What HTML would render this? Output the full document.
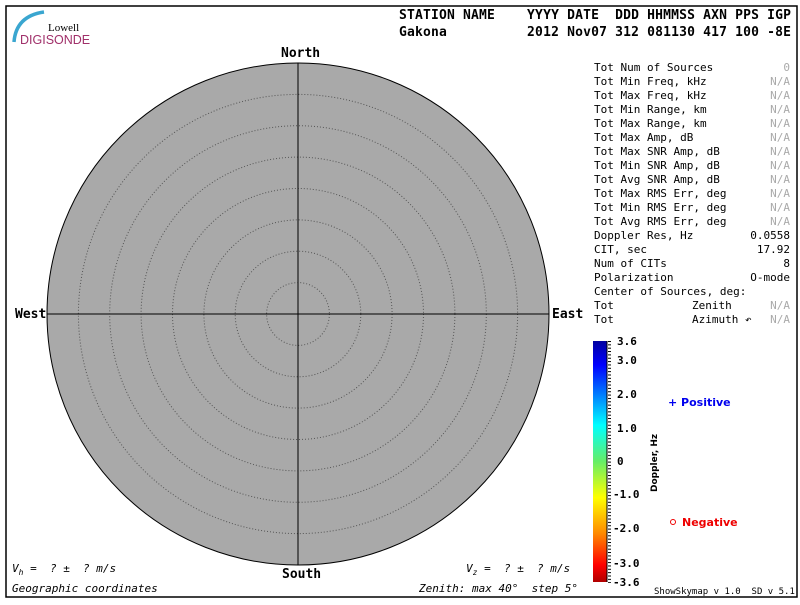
<!DOCTYPE html>
<html><head><style>
body{margin:0;background:#fff;width:800px;height:600px;overflow:hidden}
svg text{font-family:"DejaVu Sans Mono","Liberation Mono",monospace;white-space:pre}
</style></head><body>
<svg width="800" height="600" xmlns="http://www.w3.org/2000/svg" xml:space="preserve">
<defs><linearGradient id="g" x1="0" y1="0" x2="0" y2="1">
<stop offset="0" stop-color="#0000a0"/><stop offset="0.1" stop-color="#0000ff"/>
<stop offset="0.35" stop-color="#00ffff"/><stop offset="0.5" stop-color="#66ee66"/>
<stop offset="0.65" stop-color="#ffff00"/><stop offset="0.8" stop-color="#ff8800"/>
<stop offset="0.93" stop-color="#ff0000"/><stop offset="1" stop-color="#b00000"/>
</linearGradient>
<pattern id="tk" x="0" y="341" width="8" height="3.35" patternUnits="userSpaceOnUse"><line x1="0" y1="0.5" x2="4" y2="0.5" stroke="#000"/></pattern>
</defs>
<rect x="6" y="6" width="791" height="591" fill="#fff" stroke="#000" stroke-width="1.5"/>
<path d="M14 42 Q16 16 44 12" stroke="#3aa6d0" stroke-width="3.5" fill="none"/>
<text x="48" y="31" style="font-family:'Liberation Serif'" font-size="11">Lowell</text>
<text x="20" y="44" style="font-family:'Liberation Sans'" font-size="12.5" fill="#a0306a">DIGISONDE</text>
<g font-size="13" font-weight="bold">
<text x="399" y="19" textLength="392" lengthAdjust="spacing">STATION NAME    YYYY DATE  DDD HHMMSS AXN PPS IGP</text>
<text x="399" y="36" textLength="392" lengthAdjust="spacing">Gakona          2012 Nov07 312 081130 417 100 -8E</text>
<text x="281" y="57">North</text><text x="282" y="578">South</text>
<text x="15" y="318">West</text><text x="552" y="318">East</text>
</g>
<circle cx="298" cy="314" r="251" fill="#a9a9a9" stroke="#000"/>
<g fill="none" stroke="#555" stroke-dasharray="1,2">
<circle cx="298" cy="314" r="31.4"/><circle cx="298" cy="314" r="62.8"/><circle cx="298" cy="314" r="94.1"/><circle cx="298" cy="314" r="125.5"/><circle cx="298" cy="314" r="156.9"/><circle cx="298" cy="314" r="188.3"/><circle cx="298" cy="314" r="219.6"/></g>
<line x1="298" y1="63" x2="298" y2="565" stroke="#000"/><line x1="47" y1="314" x2="549" y2="314" stroke="#000"/>
<g font-size="11">
<text x="594" y="71">Tot Num of Sources</text><text x="594" y="85">Tot Min Freq, kHz</text><text x="594" y="99">Tot Max Freq, kHz</text><text x="594" y="113">Tot Min Range, km</text><text x="594" y="127">Tot Max Range, km</text><text x="594" y="141">Tot Max Amp, dB</text><text x="594" y="155">Tot Max SNR Amp, dB</text><text x="594" y="169">Tot Min SNR Amp, dB</text><text x="594" y="183">Tot Avg SNR Amp, dB</text><text x="594" y="197">Tot Max RMS Err, deg</text><text x="594" y="211">Tot Min RMS Err, deg</text><text x="594" y="225">Tot Avg RMS Err, deg</text><text x="594" y="239">Doppler Res, Hz</text><text x="594" y="253">CIT, sec</text><text x="594" y="267">Num of CITs</text><text x="594" y="281">Polarization</text><text x="594" y="295">Center of Sources, deg:</text><text x="594" y="309">Tot</text><text x="692" y="309">Zenith</text><text x="594" y="323">Tot</text><text x="692" y="323">Azimuth ↶</text>
<g fill="#aaa" text-anchor="end"><text x="790" y="71">0</text><text x="790" y="85">N/A</text><text x="790" y="99">N/A</text><text x="790" y="113">N/A</text><text x="790" y="127">N/A</text><text x="790" y="141">N/A</text><text x="790" y="155">N/A</text><text x="790" y="169">N/A</text><text x="790" y="183">N/A</text><text x="790" y="197">N/A</text><text x="790" y="211">N/A</text><text x="790" y="225">N/A</text><text x="790" y="309">N/A</text><text x="790" y="323">N/A</text></g>
<g text-anchor="end"><text x="790" y="239">0.0558</text><text x="790" y="253">17.92</text><text x="790" y="267">8</text><text x="790" y="281">O-mode</text></g>
<text x="12" y="572" font-style="italic">V<tspan font-size="8" dy="3">h</tspan><tspan dy="-3"> =  ? ±  ? m/s</tspan></text>
<text x="466" y="572" font-style="italic">V<tspan font-size="8" dy="3">z</tspan><tspan dy="-3"> =  ? ±  ? m/s</tspan></text>
<text x="12" y="592" font-style="italic">Geographic coordinates</text>
<text x="419" y="592" font-style="italic">Zenith: max 40°  step 5°</text>
</g>
<text x="654" y="594" font-size="9">ShowSkymap v 1.0  SD v 5.1</text>
<rect x="593" y="341" width="14" height="241" fill="url(#g)"/>
<line x1="607" y1="341" x2="607" y2="582" stroke="#000"/>
<rect x="607" y="341" width="4" height="242" fill="url(#tk)"/>
<g font-size="11" font-weight="bold"><text x="617" y="345">3.6</text><text x="617" y="364">3.0</text><text x="617" y="398">2.0</text><text x="617" y="432">1.0</text><text x="617" y="465">0</text><text x="613" y="498">-1.0</text><text x="613" y="532">-2.0</text><text x="613" y="567">-3.0</text><text x="613" y="586">-3.6</text></g>
<text transform="translate(657,492) rotate(-90)" font-size="9" font-weight="bold" style="font-family:'DejaVu Sans'">Doppler, Hz</text>
<text x="668" y="406" font-size="11" font-weight="bold" fill="#0000ee" style="font-family:'DejaVu Sans'">+ Positive</text>
<circle cx="673" cy="522" r="2.5" fill="none" stroke="#e00"/>
<text x="682" y="526" font-size="11" font-weight="bold" fill="#e00" style="font-family:'DejaVu Sans'">Negative</text>
</svg></body></html>
